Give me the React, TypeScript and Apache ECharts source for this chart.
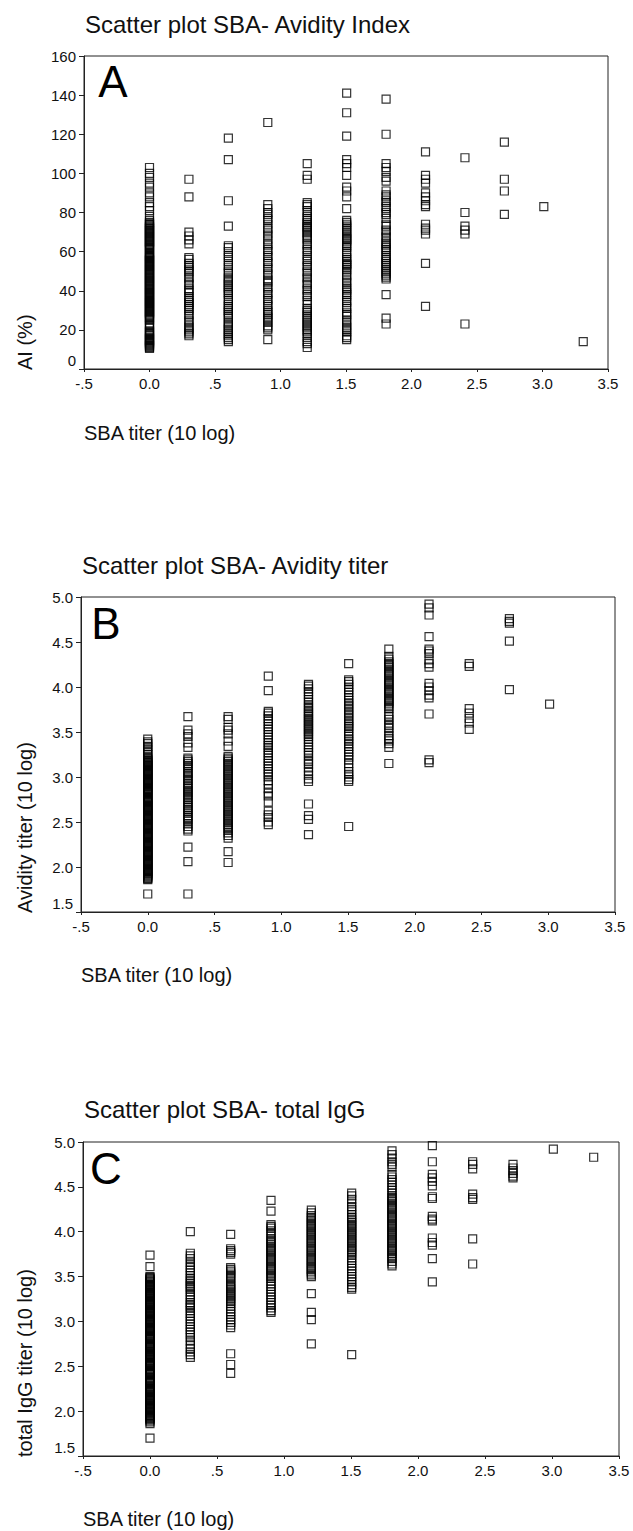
import React, { useEffect, useRef } from "react";
import * as echarts from "echarts";

// SBA titer (10 log) columns: multiples of log10(2)
const sbaTiters = [0, 0.301, 0.602, 0.903, 1.204, 1.505, 1.806, 2.107, 2.408, 2.709, 3.01, 3.311];

const xTickLabels = ["-.5", "0.0", ".5", "1.0", "1.5", "2.0", "2.5", "3.0", "3.5"];
const aiTickLabels = ["0", "20", "40", "60", "80", "100", "120", "140", "160"];
const titerTickLabels = ["1.5", "2.0", "2.5", "3.0", "3.5", "4.0", "4.5", "5.0"];

const titles = ["Scatter plot SBA- Avidity Index", "Scatter plot SBA- Avidity titer", "Scatter plot SBA- total IgG"];
const yNames = ["AI (%)", "Avidity titer (10 log)", "total IgG titer (10 log)"];
const xName = "SBA titer (10 log)";
const panelLetters = ["A", "B", "C"];

// Panel A: Avidity Index (%) per SBA titer column
const aiCol00 = [103, 100, 98, 95, 93, 90, 88, 85, 83, 81, 78, 76, 75, 74.5, 74, 73.5, 73, 72.5, 72, 71.5, 71, 70.5, 70, 69.5, 69, 68.5, 68, 67.5, 67, 66.5, 66, 65.5, 65, 64.5, 64, 63.5, 63, 62.5, 62, 61.5, 61, 59.5, 59, 58.5, 58, 57.5, 57, 56.5, 56, 55.5, 55, 54.5, 54, 53.5, 53, 52.5, 52, 51.5, 51, 50.5, 50, 49.5, 49, 48.5, 48, 47.5, 47, 46.5, 46, 45.5, 45, 44.5, 44, 43.5, 43, 42.5, 42, 41.5, 41, 40.5, 40, 39.5, 39, 38.5, 38, 37.5, 37, 36.5, 36, 35.5, 35, 34.5, 34, 33.5, 33, 32.5, 32, 31.5, 31, 30.5, 30, 29.5, 29, 28.5, 28, 27.5, 27, 26.5, 26, 25.5, 25, 23, 22.5, 22, 21, 19.5, 19, 18.5, 18, 17.5, 17, 16, 15.5, 15, 14.5, 14, 13.5, 13, 12.5, 12, 11.5, 11, 10.5];
const aiCol03 = [97, 88, 70, 68, 66, 64, 57, 56, 54, 53, 52, 51, 50, 49, 47, 46, 44, 43, 41, 40, 39, 37, 36, 35, 34, 33, 32, 31, 30, 28, 27, 25, 24, 22, 21, 20, 19, 18, 17];
const aiCol06 = [118, 107, 86, 73, 63, 62, 60, 58, 57, 55, 53, 52, 50, 49, 47, 46, 45, 44, 43, 42, 41, 40, 39, 38, 36, 35, 33, 32, 31, 30, 29, 28, 27, 26, 24, 23, 22, 21, 20, 19, 18, 17, 16, 15, 14];
const aiCol09 = [126, 84, 82, 80, 79, 77, 76, 74, 72, 71, 69, 68, 66, 64, 63, 61, 60, 58, 57, 55, 54, 52, 51, 49, 48, 46, 45, 44, 42, 41, 39, 38, 36, 35, 33, 32, 30, 29, 28, 27, 26, 25, 24, 22, 21, 20, 15];
const aiCol12 = [105, 99, 97, 85, 84, 83, 81, 80, 78, 77, 76, 75, 74, 73, 72.5, 72, 71, 70, 69, 68, 67, 66, 64, 63, 61, 60, 58, 56, 55, 53, 52, 50, 49, 47, 46, 44, 43, 41, 40, 38, 37, 35, 33, 31, 30, 29, 28, 27, 26, 25, 24, 23, 22, 21, 20, 19, 18, 16, 14, 13, 11];
const aiCol15 = [141, 131, 119, 107, 105, 103, 99, 93, 91, 88, 82, 76, 75, 74, 73, 72, 71, 70, 69, 68, 67, 66.5, 66, 65, 64, 63, 62, 60, 59, 57, 56, 55, 54, 53.5, 53, 52, 51, 50, 48, 47, 45, 44, 42, 41, 40, 39, 38, 37, 35, 34, 32, 31, 29, 28, 27, 25, 24, 22, 21, 20, 19, 17, 16, 15];
const aiCol18 = [138, 120, 105, 103, 101, 98, 96, 91, 89, 88, 86, 85, 83, 82, 80, 79, 77, 74, 73, 71, 70, 68, 67, 65, 64, 63, 62, 61, 60, 58, 57, 56, 55, 54, 53, 52, 51, 50, 49, 48, 47, 46, 38, 26, 23];
const aiCol21 = [111, 99, 97, 95, 90, 88, 86, 84, 83, 74, 72, 71, 69, 54, 32];
const aiCol24 = [108, 80, 73, 71, 69, 23];
const aiCol27 = [116, 97, 91, 79];
const aiCol30 = [83];
const aiCol33 = [14];
const avidityIndex = [aiCol00, aiCol03, aiCol06, aiCol09, aiCol12, aiCol15, aiCol18, aiCol21, aiCol24, aiCol27, aiCol30, aiCol33];

// Panel B: Avidity titer (10 log)
const avCol00 = [3.42, 3.39, 3.37, 3.34, 3.32, 3.30, 3.27, 3.25, 3.22, 3.21, 3.20, 3.19, 3.18, 3.17, 3.16, 3.15, 3.14, 3.13, 3.12, 3.11, 3.10, 3.09, 3.08, 3.07, 3.06, 3.05, 3.04, 3.03, 3.02, 3.01, 3.00, 2.99, 2.98, 2.97, 2.96, 2.95, 2.94, 2.93, 2.92, 2.91, 2.90, 2.89, 2.88, 2.87, 2.86, 2.85, 2.84, 2.83, 2.82, 2.81, 2.80, 2.78, 2.77, 2.76, 2.75, 2.74, 2.73, 2.72, 2.71, 2.70, 2.69, 2.68, 2.67, 2.66, 2.65, 2.64, 2.63, 2.62, 2.61, 2.60, 2.59, 2.58, 2.57, 2.56, 2.55, 2.54, 2.53, 2.52, 2.51, 2.50, 2.49, 2.48, 2.47, 2.46, 2.45, 2.44, 2.43, 2.42, 2.41, 2.40, 2.39, 2.38, 2.37, 2.36, 2.35, 2.34, 2.33, 2.32, 2.31, 2.30, 2.29, 2.28, 2.27, 2.26, 2.25, 2.24, 2.23, 2.22, 2.21, 2.20, 2.19, 2.18, 2.17, 2.16, 2.15, 2.14, 2.13, 2.12, 2.11, 2.10, 2.09, 2.08, 2.07, 2.06, 2.05, 2.04, 2.03, 2.02, 2.01, 2.00, 1.99, 1.98, 1.97, 1.96, 1.95, 1.94, 1.93, 1.92, 1.91, 1.90, 1.89, 1.88, 1.87, 1.86, 1.70];
const avCol03 = [3.67, 3.52, 3.48, 3.45, 3.38, 3.33, 3.21, 3.19, 3.17, 3.15, 3.13, 3.11, 3.09, 3.06, 3.04, 3.02, 3.00, 2.98, 2.96, 2.93, 2.91, 2.89, 2.87, 2.85, 2.83, 2.81, 2.79, 2.77, 2.75, 2.72, 2.70, 2.68, 2.66, 2.64, 2.62, 2.60, 2.57, 2.55, 2.53, 2.51, 2.48, 2.45, 2.42, 2.40, 2.22, 2.06, 1.70];
const avCol06 = [3.67, 3.64, 3.55, 3.52, 3.48, 3.40, 3.34, 3.23, 3.21, 3.19, 3.17, 3.15, 3.13, 3.11, 3.09, 3.07, 3.05, 3.03, 3.01, 2.99, 2.97, 2.95, 2.93, 2.91, 2.89, 2.87, 2.85, 2.83, 2.81, 2.79, 2.77, 2.75, 2.73, 2.71, 2.69, 2.67, 2.65, 2.63, 2.61, 2.59, 2.57, 2.55, 2.53, 2.51, 2.49, 2.47, 2.45, 2.43, 2.41, 2.38, 2.35, 2.32, 2.17, 2.05];
const avCol09 = [4.12, 3.96, 3.73, 3.71, 3.68, 3.65, 3.62, 3.59, 3.56, 3.53, 3.50, 3.47, 3.44, 3.41, 3.38, 3.35, 3.33, 3.30, 3.27, 3.24, 3.21, 3.18, 3.15, 3.12, 3.09, 3.06, 3.03, 3.00, 2.96, 2.92, 2.87, 2.82, 2.79, 2.72, 2.62, 2.58, 2.55, 2.50, 2.47];
const avCol12 = [4.03, 4.01, 3.98, 3.95, 3.92, 3.89, 3.86, 3.83, 3.80, 3.78, 3.76, 3.73, 3.71, 3.69, 3.67, 3.65, 3.63, 3.61, 3.59, 3.57, 3.55, 3.53, 3.51, 3.49, 3.47, 3.45, 3.42, 3.39, 3.36, 3.33, 3.30, 3.27, 3.24, 3.20, 3.17, 3.14, 3.10, 3.06, 3.02, 2.98, 2.95, 2.70, 2.57, 2.53, 2.36];
const avCol15 = [4.26, 4.08, 4.06, 4.03, 4.00, 3.97, 3.94, 3.91, 3.88, 3.85, 3.82, 3.80, 3.78, 3.75, 3.72, 3.70, 3.68, 3.65, 3.62, 3.60, 3.58, 3.56, 3.54, 3.51, 3.48, 3.45, 3.42, 3.40, 3.37, 3.34, 3.31, 3.28, 3.25, 3.22, 3.19, 3.15, 3.10, 3.06, 3.03, 3.00, 2.97, 2.95, 2.45];
const avCol18 = [4.42, 4.34, 4.31, 4.28, 4.26, 4.24, 4.22, 4.20, 4.18, 4.16, 4.14, 4.12, 4.10, 4.08, 4.06, 4.04, 4.02, 4.00, 3.98, 3.96, 3.94, 3.92, 3.90, 3.88, 3.86, 3.84, 3.82, 3.80, 3.78, 3.76, 3.70, 3.67, 3.64, 3.60, 3.57, 3.54, 3.50, 3.46, 3.43, 3.40, 3.37, 3.33, 3.15];
const avCol21 = [4.92, 4.88, 4.80, 4.56, 4.42, 4.40, 4.37, 4.30, 4.26, 4.22, 4.04, 4.00, 3.96, 3.91, 3.88, 3.70, 3.19, 3.16];
const avCol24 = [4.26, 4.23, 3.76, 3.71, 3.65, 3.60, 3.53];
const avCol27 = [4.76, 4.73, 4.71, 4.51, 3.97];
const avCol30 = [3.81];
const avCol33: number[] = [];
const avidityTiter = [avCol00, avCol03, avCol06, avCol09, avCol12, avCol15, avCol18, avCol21, avCol24, avCol27, avCol30, avCol33];

// Panel C: total IgG titer (10 log)
const igCol00 = [3.74, 3.61, 3.50, 3.49, 3.48, 3.47, 3.46, 3.45, 3.44, 3.43, 3.42, 3.41, 3.40, 3.39, 3.38, 3.37, 3.36, 3.35, 3.34, 3.33, 3.32, 3.31, 3.30, 3.29, 3.28, 3.27, 3.26, 3.25, 3.24, 3.23, 3.22, 3.21, 3.20, 3.19, 3.18, 3.17, 3.16, 3.15, 3.14, 3.13, 3.12, 3.11, 3.10, 3.09, 3.08, 3.07, 3.06, 3.05, 3.04, 3.03, 3.02, 3.01, 3.00, 2.99, 2.98, 2.97, 2.96, 2.95, 2.94, 2.93, 2.92, 2.91, 2.90, 2.89, 2.88, 2.87, 2.86, 2.85, 2.84, 2.83, 2.82, 2.81, 2.80, 2.78, 2.76, 2.75, 2.74, 2.73, 2.72, 2.71, 2.70, 2.69, 2.68, 2.67, 2.66, 2.65, 2.64, 2.63, 2.62, 2.61, 2.60, 2.59, 2.58, 2.57, 2.56, 2.55, 2.54, 2.53, 2.52, 2.51, 2.50, 2.48, 2.47, 2.46, 2.45, 2.44, 2.43, 2.42, 2.41, 2.40, 2.38, 2.37, 2.36, 2.35, 2.34, 2.33, 2.32, 2.31, 2.30, 2.28, 2.27, 2.26, 2.25, 2.24, 2.23, 2.22, 2.21, 2.20, 2.19, 2.18, 2.17, 2.16, 2.15, 2.14, 2.13, 2.12, 2.11, 2.10, 2.09, 2.08, 2.07, 2.06, 2.05, 2.04, 2.03, 2.02, 2.01, 2.00, 1.99, 1.98, 1.97, 1.96, 1.95, 1.94, 1.93, 1.92, 1.91, 1.90, 1.88, 1.86, 1.70];
const igCol03 = [4.00, 3.76, 3.73, 3.70, 3.66, 3.63, 3.60, 3.57, 3.54, 3.51, 3.48, 3.46, 3.44, 3.42, 3.40, 3.38, 3.36, 3.33, 3.30, 3.27, 3.24, 3.21, 3.19, 3.17, 3.15, 3.12, 3.09, 3.06, 3.03, 3.00, 2.97, 2.94, 2.91, 2.88, 2.85, 2.82, 2.78, 2.74, 2.70, 2.66, 2.63, 2.60];
const igCol06 = [3.97, 3.81, 3.79, 3.77, 3.75, 3.60, 3.58, 3.56, 3.54, 3.52, 3.50, 3.48, 3.45, 3.42, 3.40, 3.38, 3.36, 3.34, 3.32, 3.30, 3.28, 3.26, 3.24, 3.22, 3.20, 3.17, 3.14, 3.11, 3.08, 3.05, 3.02, 2.99, 2.96, 2.93, 2.64, 2.52, 2.42];
const igCol09 = [4.35, 4.23, 4.08, 4.06, 4.04, 4.01, 3.98, 3.95, 3.92, 3.90, 3.88, 3.86, 3.84, 3.82, 3.80, 3.78, 3.76, 3.74, 3.72, 3.70, 3.68, 3.66, 3.64, 3.62, 3.60, 3.58, 3.56, 3.54, 3.52, 3.50, 3.48, 3.45, 3.42, 3.39, 3.36, 3.33, 3.30, 3.27, 3.24, 3.21, 3.18, 3.15, 3.12, 3.10];
const igCol12 = [4.24, 4.21, 4.18, 4.16, 4.14, 4.12, 4.10, 4.08, 4.06, 4.04, 4.02, 4.00, 3.98, 3.96, 3.94, 3.92, 3.90, 3.88, 3.86, 3.84, 3.82, 3.80, 3.78, 3.76, 3.74, 3.72, 3.70, 3.68, 3.66, 3.64, 3.62, 3.60, 3.58, 3.56, 3.54, 3.52, 3.50, 3.31, 3.10, 3.02, 2.75];
const igCol15 = [4.43, 4.40, 4.36, 4.32, 4.28, 4.25, 4.22, 4.19, 4.16, 4.14, 4.12, 4.10, 4.08, 4.06, 4.04, 4.02, 4.00, 3.98, 3.96, 3.94, 3.92, 3.90, 3.88, 3.86, 3.84, 3.82, 3.80, 3.78, 3.76, 3.74, 3.71, 3.68, 3.65, 3.62, 3.59, 3.56, 3.53, 3.50, 3.47, 3.44, 3.41, 3.38, 3.36, 2.63];
const igCol18 = [4.90, 4.86, 4.82, 4.78, 4.75, 4.72, 4.64, 4.61, 4.58, 4.55, 4.52, 4.49, 4.46, 4.43, 4.40, 4.38, 4.36, 4.34, 4.32, 4.30, 4.28, 4.26, 4.24, 4.22, 4.20, 4.18, 4.16, 4.14, 4.12, 4.10, 4.08, 4.06, 4.04, 4.02, 4.00, 3.98, 3.96, 3.94, 3.92, 3.90, 3.88, 3.86, 3.84, 3.82, 3.80, 3.78, 3.76, 3.74, 3.72, 3.70, 3.67, 3.64, 3.62];
const igCol21 = [4.96, 4.78, 4.64, 4.60, 4.56, 4.51, 4.39, 4.37, 4.17, 4.14, 4.12, 3.93, 3.88, 3.85, 3.70, 3.44];
const igCol24 = [4.78, 4.75, 4.70, 4.42, 4.38, 4.36, 3.92, 3.64];
const igCol27 = [4.75, 4.71, 4.68, 4.65, 4.62, 4.60];
const igCol30 = [4.92];
const igCol33 = [4.83];
const totalIgG = [igCol00, igCol03, igCol06, igCol09, igCol12, igCol15, igCol18, igCol21, igCol24, igCol27, igCol30, igCol33];

const FONT = "'Liberation Sans', Arial, Helvetica, sans-serif";
const INK = "#111";

function toPoints(cols: number[][]) {
  const pts: number[][] = [];
  cols.forEach((col, i) => col.forEach((v) => pts.push([sbaTiters[i], v])));
  return pts;
}

export default function App() {
  const ref = useRef<HTMLDivElement>(null);

  useEffect(() => {
    document.body.style.margin = "0";
    if (!ref.current) return;
    const chart = echarts.init(ref.current, undefined, { renderer: "svg" });

    const grids = [
      { left: 84, top: 56, width: 524, height: 313 },
      { left: 81, top: 597, width: 534, height: 315 },
      { left: 83, top: 1142, width: 536, height: 314 },
    ];
    const yRanges = [
      { min: 0, max: 160, interval: 20, labels: aiTickLabels },
      { min: 1.5, max: 5, interval: 0.5, labels: titerTickLabels },
      { min: 1.5, max: 5, interval: 0.5, labels: titerTickLabels },
    ];
    const titleCenters = [24, 565, 1109];
    const xNameCenters = [433, 975, 1519];
    const letterPos = [
      [113, 81],
      [106, 623],
      [106, 1168],
    ];
    const datasets = [avidityIndex, avidityTiter, totalIgG];

    const option: any = {
      animation: false,
      backgroundColor: "#fff",
      title: titles.map((t, i) => ({
        text: t,
        left: grids[i].left + 1,
        top: titleCenters[i] - 12,
        padding: 0,
        textStyle: { fontSize: 24, fontWeight: "normal", color: INK, fontFamily: FONT },
      })),
      grid: grids.map((g) => ({
        ...g,
        show: true,
        borderColor: "#222",
        borderWidth: 1,
        backgroundColor: "transparent",
        containLabel: false,
      })),
      xAxis: grids.map((_, i) => ({
        type: "value",
        gridIndex: i,
        min: -0.5,
        max: 3.5,
        interval: 0.5,
        axisLine: { show: true, onZero: false, lineStyle: { color: "#222", width: 1 } },
        axisTick: { show: true, inside: false, length: 3, lineStyle: { color: "#222" } },
        axisLabel: {
          margin: 7,
          fontSize: 15,
          color: INK,
          fontFamily: FONT,
          formatter: (v: number) => xTickLabels[Math.round((v + 0.5) / 0.5)] ?? "",
        },
        splitLine: { show: false },
      })),
      yAxis: yRanges.map((r, i) => ({
        type: "value",
        gridIndex: i,
        min: r.min,
        max: r.max,
        interval: r.interval,
        axisLine: { show: true, onZero: false, lineStyle: { color: "#222", width: 1 } },
        axisTick: { show: true, inside: false, length: 5, lineStyle: { color: "#222" } },
        axisLabel: {
          margin: 8,
          fontSize: 15,
          color: INK,
          fontFamily: FONT,
          formatter: (v: number) => {
            const idx = Math.round((v - r.min) / r.interval);
            const lab = r.labels[idx] ?? "";
            return idx === 0 ? `{lo|${lab}}` : lab;
          },
          rich: {
            lo: { fontSize: 15, color: INK, fontFamily: FONT, padding: [0, 0, 17, 0] },
          },
        },
        splitLine: { show: false },
      })),
      series: datasets.map((d, i) => ({
        type: "scatter",
        xAxisIndex: i,
        yAxisIndex: i,
        symbol: "rect",
        symbolSize: [8, 8],
        silent: true,
        itemStyle: { color: "rgba(255,255,255,0)", borderColor: "#000", borderWidth: 1.2 },
        data: toPoints(d),
      })),
      graphic: [
        ...panelLetters.map((l, i) => ({
          type: "text",
          x: letterPos[i][0],
          y: letterPos[i][1],
          silent: true,
          style: {
            text: l,
            fontSize: 44,
            fontFamily: FONT,
            fill: "#000",
            textAlign: "center",
            textVerticalAlign: "middle",
          },
        })),
        ...yNames.map((n, i) => ({
          type: "text",
          x: 25,
          y: grids[i].top + grids[i].height + 1,
          rotation: Math.PI / 2,
          silent: true,
          style: {
            text: n,
            fontSize: 20,
            fontFamily: FONT,
            fill: INK,
            textAlign: "left",
            textVerticalAlign: "middle",
          },
        })),
        ...grids.map((g, i) => ({
          type: "text",
          x: g.left,
          y: xNameCenters[i],
          silent: true,
          style: {
            text: xName,
            fontSize: 20,
            fontFamily: FONT,
            fill: INK,
            textAlign: "left",
            textVerticalAlign: "middle",
          },
        })),
      ],
    };

    chart.setOption(option);
    return () => chart.dispose();
  }, []);

  return <div ref={ref} style={{ width: 633, height: 1531 }} />;
}
